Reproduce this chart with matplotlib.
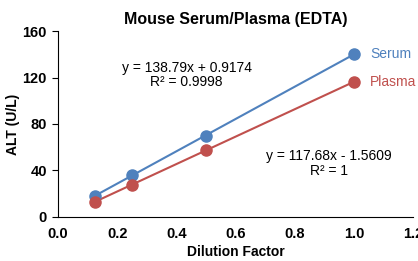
import numpy as np
import matplotlib.pyplot as plt

plt.rcParams['font.family'] = ['Liberation Sans', 'DejaVu Sans']

# data
dilution = [0.125, 0.25, 0.5, 1.0]
serum = [18.3, 35.8, 70.0, 140.0]
plasma = [13.0, 27.7, 57.5, 116.2]

x_ticks = [0.0, 0.2, 0.4, 0.6, 0.8, 1.0, 1.2]
y_ticks = [0, 40, 80, 120, 160]

blue = '#4F81BD'
red = '#C0504D'

fig = plt.figure(figsize=(4.18, 2.61), dpi=100)
ax = fig.add_axes([0.139, 0.169, 0.849, 0.712])

x = np.array(dilution)
for vals, c in [(serum, blue), (plasma, red)]:
    k, b = np.polyfit(x, vals, 1)
    ax.plot(x, k * x + b, color=c, lw=1.5, zorder=2)
    ax.plot(x, vals, 'o', color=c, ms=8, zorder=3)

ax.text(1.055, 140.5, 'Serum', color=blue, fontsize=10, va='center')
ax.text(1.055, 116.5, 'Plasma', color=red, fontsize=10, va='center')

ax.text(0.435, 122, 'y = 138.79x + 0.9174\nR² = 0.9998', fontsize=10,
        ha='center', va='center', linespacing=1.05)
ax.text(0.915, 46, 'y = 117.68x - 1.5609\nR² = 1', fontsize=10,
        ha='center', va='center', linespacing=1.05)

ax.set_xlim(0, 1.2)
ax.set_ylim(0, 160)
ax.set_xticks(x_ticks)
ax.set_yticks(y_ticks)
ax.set_xticklabels([f'{t:.1f}' for t in x_ticks], fontweight='bold', fontsize=10.5)
ax.set_yticklabels([str(t) for t in y_ticks], fontweight='bold', fontsize=10.5)
ax.tick_params(axis='x', length=0, pad=7)
ax.tick_params(axis='y', length=4, width=0.8, pad=4)

for s in ['top', 'right']:
    ax.spines[s].set_visible(False)
ax.spines['left'].set_linewidth(0.8)
ax.spines['bottom'].set_linewidth(0.8)

ax.set_xlabel('Dilution Factor', fontweight='bold', fontsize=10, labelpad=3)
ax.set_ylabel('ALT (U/L)', fontweight='bold', fontsize=10, labelpad=2)
ax.set_title('Mouse Serum/Plasma (EDTA)', fontweight='bold', fontsize=11.5, pad=5)

fig.savefig('out.png', dpi=100)
